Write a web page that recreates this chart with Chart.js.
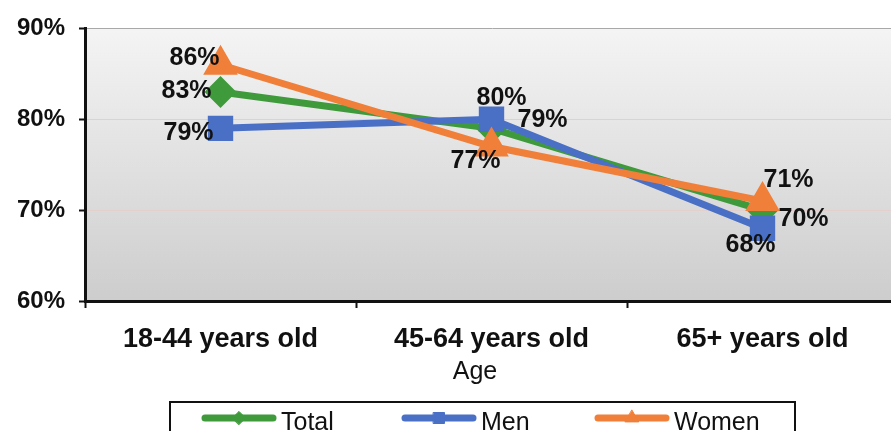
<!DOCTYPE html>
<html>
<head>
<meta charset="utf-8">
<script src="https://cdn.jsdelivr.net/npm/chart.js@4/dist/chart.umd.min.js"></script>
<style>
  html, body { margin: 0; padding: 0; background: #fff; overflow: hidden; }
  #wrap { width: 891px; height: 431px; overflow: hidden; position: relative; }
  #box { width: 905px; height: 431px; position: absolute; left: 0; top: 0; }
</style>
</head>
<body>
<div id="wrap"><div id="box"><canvas id="lineChart"></canvas></div></div>
<script>
// data
const ageGroups = ["18-44 years old", "45-64 years old", "65+ years old"];
const totalValues = [83, 79, 70];
const menValues = [79, 80, 68];
const womenValues = [86, 77, 71];
const yTicks = [60, 70, 80, 90];

// label offsets from each point (px)
const labelOffsets = {
    Total: [[-34, -1], [51, -8], [41, 9]],
    Men: [[-32, 5], [10, -21], [-12, 17]],
    Women: [[-26, -7], [-16, 15], [26, -21]]
};

const FONT = "'Liberation Sans', Arial, sans-serif";

const backgroundPlugin = {
    id: "plotBackground",
    beforeDraw(chart) {
        const { ctx, chartArea: a } = chart;
        const g = ctx.createLinearGradient(0, a.top, 0, a.bottom);
        g.addColorStop(0, "#f4f4f4");
        g.addColorStop(1, "#cdcdcd");
        ctx.save();
        ctx.fillStyle = g;
        ctx.fillRect(a.left, a.top, a.right - a.left, a.bottom - a.top);
        ctx.restore();
    }
};

const valueLabels = {
    id: "valueLabels",
    afterDatasetsDraw(chart) {
        const ctx = chart.ctx;
        ctx.save();
        ctx.font = "bold 25px " + FONT;
        ctx.fillStyle = "#111";
        ctx.textAlign = "center";
        ctx.textBaseline = "middle";
        chart.data.datasets.forEach((ds, i) => {
            const meta = chart.getDatasetMeta(i);
            meta.data.forEach((pt, j) => {
                const off = labelOffsets[ds.label][j];
                ctx.fillText(ds.data[j] + "%", pt.x + off[0], pt.y + off[1]);
            });
        });
        ctx.restore();
    }
};

const legendBox = {
    id: "legendBox",
    afterDraw(chart) {
        const ctx = chart.ctx;
        ctx.save();
        // axis title
        ctx.font = "25px " + FONT;
        ctx.fillStyle = "#111";
        ctx.textAlign = "center";
        ctx.textBaseline = "middle";
        ctx.fillText("Age", 475, 372);

        // legend frame
        ctx.strokeStyle = "#111";
        ctx.lineWidth = 2;
        ctx.strokeRect(170, 402, 625, 60);

        const items = [
            { ds: chart.data.datasets[0], x: 205 },
            { ds: chart.data.datasets[1], x: 405 },
            { ds: chart.data.datasets[2], x: 598 }
        ];
        items.forEach(it => {
            const ds = it.ds;
            const y = 418;
            ctx.strokeStyle = ds.borderColor;
            ctx.lineWidth = 7;
            ctx.lineCap = "round";
            ctx.beginPath();
            ctx.moveTo(it.x, y);
            ctx.lineTo(it.x + 68, y);
            ctx.stroke();
            ctx.fillStyle = ds.borderColor;
            ctx.strokeStyle = ds.borderColor;
            ctx.lineWidth = 1;
            Chart.helpers.drawPoint(ctx, {
                pointStyle: ds.pointStyle,
                radius: ds.pointRadius * 0.6,
                borderWidth: 1
            }, it.x + 34, y);
            ctx.fillStyle = "#111";
            ctx.font = "25px " + FONT;
            ctx.textAlign = "left";
            ctx.fillText(ds.label, it.x + 76, 423);
        });
        ctx.restore();
    }
};

const ctx = document.getElementById("lineChart").getContext("2d");
new Chart(ctx, {
    type: "line",
    data: {
        labels: ageGroups,
        datasets: [
            {
                label: "Total",
                data: totalValues,
                borderColor: "#3f9a3c",
                backgroundColor: "#3f9a3c",
                borderWidth: 7,
                pointStyle: "rectRot",
                pointRadius: 11,
                order: 3
            },
            {
                label: "Men",
                data: menValues,
                borderColor: "#4a70c6",
                backgroundColor: "#4a70c6",
                borderWidth: 7,
                pointStyle: "rect",
                pointRadius: 13,
                order: 2
            },
            {
                label: "Women",
                data: womenValues,
                borderColor: "#f07f3a",
                backgroundColor: "#f07f3a",
                borderWidth: 7,
                pointStyle: "triangle",
                pointRadius: 13,
                order: 1
            }
        ]
    },
    options: {
        responsive: true,
        maintainAspectRatio: false,
        animation: false,
        layout: { autoPadding: false, padding: { top: 25, right: 7, left: 0, bottom: 0 } },
        plugins: {
            legend: { display: false },
            tooltip: { enabled: false }
        },
        elements: {
            line: { tension: 0 },
            point: { borderWidth: 1 }
        },
        scales: {
            x: {
                offset: true,
                afterFit: s => {
                    s.height = 130;
                    s.paddingLeft = 0;
                    s.paddingRight = 0;
                },
                grid: {
                    offset: true,
                    drawOnChartArea: false,
                    tickLength: 7,
                    tickColor: "#111",
                    tickWidth: 2
                },
                border: { color: "#111", width: 3 },
                ticks: {
                    padding: 15,
                    color: "#111",
                    font: { family: FONT, size: 27, weight: "bold" }
                }
            },
            y: {
                min: yTicks[0],
                max: yTicks[yTicks.length - 1],
                afterFit: s => { s.width = 85; },
                afterBuildTicks: s => { s.ticks = yTicks.map(v => ({ value: v })); },
                grid: {
                    color: c => (c.tick && c.tick.value === 90 ? "#a8a8a8" : "#e3cfcc"),
                    lineWidth: 1,
                    tickLength: 6,
                    tickColor: "#111",
                    tickWidth: 2
                },
                border: { color: "#111", width: 3 },
                ticks: {
                    padding: 14,
                    color: "#111",
                    font: { family: FONT, size: 24, weight: "bold" },
                    callback: v => v + "%"
                }
            }
        }
    },
    plugins: [backgroundPlugin, valueLabels, legendBox]
});
</script>
</body>
</html>
